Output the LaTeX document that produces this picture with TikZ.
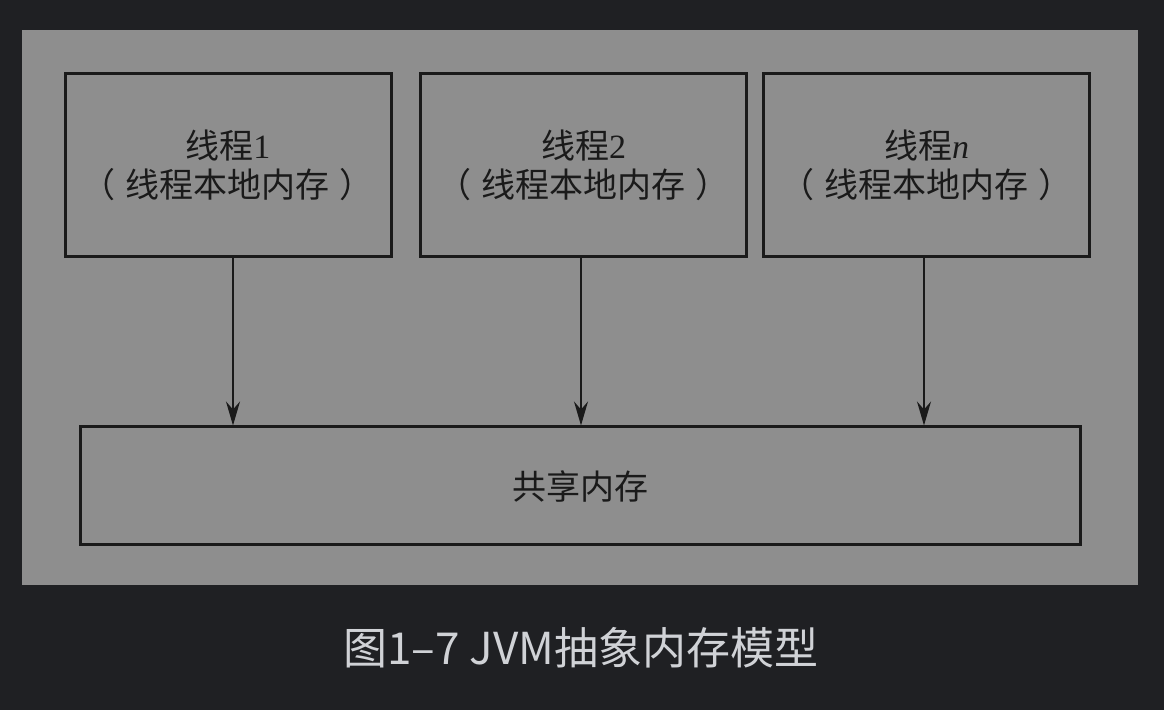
\documentclass[tikz,border=0pt]{standalone}
\usepackage{fontspec}
\usepackage{xcolor}
\usetikzlibrary{arrows.meta}
\setmainfont{Liberation Serif}
\newfontfamily\cjk{Noto Sans CJK SC}
\definecolor{PageBg}{RGB}{31,32,35}
\definecolor{PanelGray}{RGB}{142,142,142}
\definecolor{InkDark}{RGB}{26,26,26}
\definecolor{CaptionText}{RGB}{208,210,214}
\newcommand{\localmem}{{\cjk （\hspace{5pt}线程本地内存\hspace{5pt}）}}

\begin{document}
\begin{tikzpicture}[x=0.5pt,y=-0.5pt,
    threadbox/.style={draw=InkDark,line width=1.5pt,inner sep=0pt,
      minimum width=163pt,minimum height=91.5pt,align=center,
      font=\fontsize{17}{19.5}\selectfont,text=InkDark},
    membox/.style={threadbox,minimum width=500pt,minimum height=59pt},
    flow/.style={draw=InkDark,line width=0.8pt,
      -{Stealth[length=12pt,width=7pt,inset=4pt]}}]
  % page and panel
  \fill[PageBg] (0,0) rectangle (1164,710);
  \fill[PanelGray] (22,30) rectangle (1138,585);
  % thread boxes
  \node[threadbox] (t1) at (228,165.5) {{\cjk 线程}1\\\localmem};
  \node[threadbox] (t2) at (583.5,165.5) {{\cjk 线程}2\\\localmem};
  \node[threadbox] (tn) at (926.5,165.5) {{\cjk 线程}\textit{n}\\\localmem};
  % shared memory
  \node[membox] (mem) at (580,486) {\cjk 共享内存};
  % arrows
  \draw[flow] ([xshift=2.5pt]t1.south) -- ([xshift=2.5pt]t1.south |- mem.north);
  \draw[flow] ([xshift=-1.25pt]t2.south) -- ([xshift=-1.25pt]t2.south |- mem.north);
  \draw[flow] ([xshift=-1.25pt]tn.south) -- ([xshift=-1.25pt]tn.south |- mem.north);
  % caption
  \node[text=CaptionText,font=\cjk\fontsize{22}{26}\selectfont] (cap) at (581,648) {图1–7 JVM抽象内存模型};
\end{tikzpicture}
\end{document}
